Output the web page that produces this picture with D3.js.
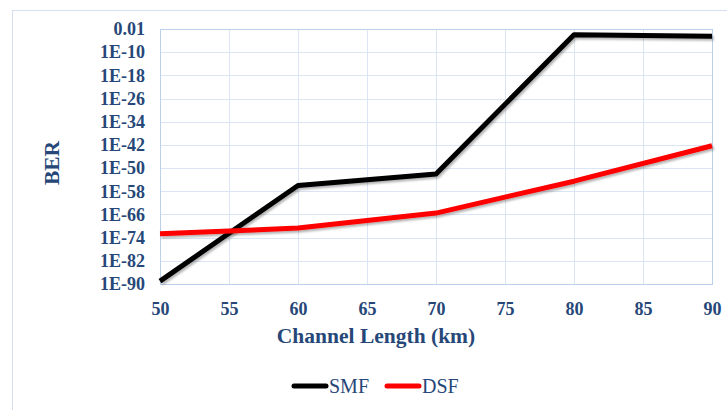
<!DOCTYPE html>
<html>
<head>
<meta charset="utf-8">
<script src="https://cdn.jsdelivr.net/npm/d3@7"></script>
<style>
  body { margin: 0; background: #fff; }
</style>
</head>
<body>
<div class="chart"></div>
<script>
// channel length (km) and BER
const lengths = [50, 60, 70, 80, 90];
const smfBer = [1e-89, 1e-56, 1e-52, 1e-4, 3e-5];
const dsfBer = [2e-73, 2e-71, 3e-66, 3e-55, 5e-43];
const xTicks = [50, 55, 60, 65, 70, 75, 80, 85, 90];
const yTicks = [1e-2, 1e-10, 1e-18, 1e-26, 1e-34, 1e-42, 1e-50, 1e-58, 1e-66, 1e-74, 1e-82, 1e-90];
const seriesNames = ['SMF', 'DSF'];
const seriesColors = ['#000000', '#ff0000'];

const serif = "'Liberation Serif', 'Times New Roman', Tinos, 'DejaVu Serif', serif";

function renderChart() {
    const W = 727, H = 410;
    const margin = {top: 29, left: 160, right: 15, bottom: 126};
    const width = W - margin.left - margin.right;
    const height = H - margin.top - margin.bottom;
    const textColor = '#264778';

    const svg = d3.select('.chart').append('svg')
        .attr('width', W)
        .attr('height', H);

    const defs = svg.append('defs');
    const f = defs.append('filter').attr('id', 'shadow')
        .attr('x', '-5%').attr('y', '-5%').attr('width', '110%').attr('height', '120%');
    f.append('feDropShadow')
        .attr('dx', 1.5).attr('dy', 2).attr('stdDeviation', 1.2)
        .attr('flood-color', '#000').attr('flood-opacity', 0.3);

    // outer chart border
    svg.append('rect')
        .attr('x', 12.5).attr('y', 10.5)
        .attr('width', 740).attr('height', 420)
        .attr('fill', 'none')
        .attr('stroke', '#d3def0');

    const xScale = d3.scaleLinear().domain([50, 90]).range([0, width]);
    const yScale = d3.scaleLog().domain([1e-90, 1e-2]).range([height, 0]);

    const g = svg.append('g')
        .attr('transform', `translate(${margin.left},${margin.top})`);

    // grid
    g.append('g').selectAll('line')
        .data(yTicks)
        .enter().append('line')
        .attr('x1', 0).attr('x2', width)
        .attr('y1', d => Math.round(yScale(d)) + 0.5)
        .attr('y2', d => Math.round(yScale(d)) + 0.5)
        .attr('stroke', '#dbe5f3');
    g.append('g').selectAll('line')
        .data(xTicks)
        .enter().append('line')
        .attr('y1', 0).attr('y2', height)
        .attr('x1', d => Math.round(xScale(d)) + 0.5)
        .attr('x2', d => Math.round(xScale(d)) + 0.5)
        .attr('stroke', '#dbe5f3');
    g.append('rect')
        .attr('x', 0.5).attr('y', 0.5)
        .attr('width', width).attr('height', height)
        .attr('fill', 'none')
        .attr('stroke', '#bcd0eb');

    const xAxis = d3.axisBottom(xScale).tickValues(xTicks).tickSize(0).tickPadding(18);
    const yAxis = d3.axisLeft(yScale).tickValues(yTicks).tickSize(0).tickPadding(15)
        .tickFormat(d => {
            const e = Math.round(Math.log10(d));
            return e === -2 ? '0.01' : '1E' + e;
        });

    g.append('g')
        .attr('class', 'axis x-axis')
        .attr('transform', `translate(0,${height})`)
        .call(xAxis)
        .call(a => a.select('.domain').remove());
    g.append('g')
        .attr('class', 'axis y-axis')
        .call(yAxis)
        .call(a => a.select('.domain').remove());

    svg.selectAll('.axis').attr('font-family', null).attr('font-size', null);
    svg.selectAll('.axis text')
        .style('font-family', serif)
        .style('font-size', '18px')
        .style('font-weight', 'bold')
        .attr('fill', textColor);

    // axis titles
    svg.append('text')
        .attr('x', 376).attr('y', 343)
        .attr('text-anchor', 'middle')
        .style('font-family', serif)
        .style('font-size', '21.5px')
        .style('font-weight', 'bold')
        .attr('fill', textColor)
        .text('Channel Length (km)');
    svg.append('text')
        .attr('transform', 'translate(59,163) rotate(-90)')
        .attr('text-anchor', 'middle')
        .style('font-family', serif)
        .style('font-size', '21.5px')
        .style('font-weight', 'bold')
        .attr('fill', textColor)
        .text('BER');

    // lines
    const series = [smfBer, dsfBer];
    const line = d3.line()
        .x((d, i) => xScale(lengths[i]))
        .y(d => yScale(d));
    series.forEach((s, k) => {
        g.append('path')
            .datum(s)
            .attr('d', line)
            .attr('fill', 'none')
            .attr('stroke', seriesColors[k])
            .attr('stroke-width', 5)
            .attr('stroke-linejoin', 'round')
            .attr('filter', 'url(#shadow)');
    });

    // legend
    const legX = [294, 387];
    const leg = svg.append('g');
    seriesNames.forEach((name, k) => {
        leg.append('line')
            .attr('x1', legX[k]).attr('x2', legX[k] + 32)
            .attr('y1', 386).attr('y2', 386)
            .attr('stroke', seriesColors[k])
            .attr('stroke-width', 5)
            .attr('stroke-linecap', 'round');
        leg.append('text')
            .attr('x', legX[k] + 35).attr('y', 393)
            .style('font-family', serif)
            .style('font-size', '20px')
            .attr('fill', textColor)
            .text(name);
    });
}

renderChart();
</script>
</body>
</html>
